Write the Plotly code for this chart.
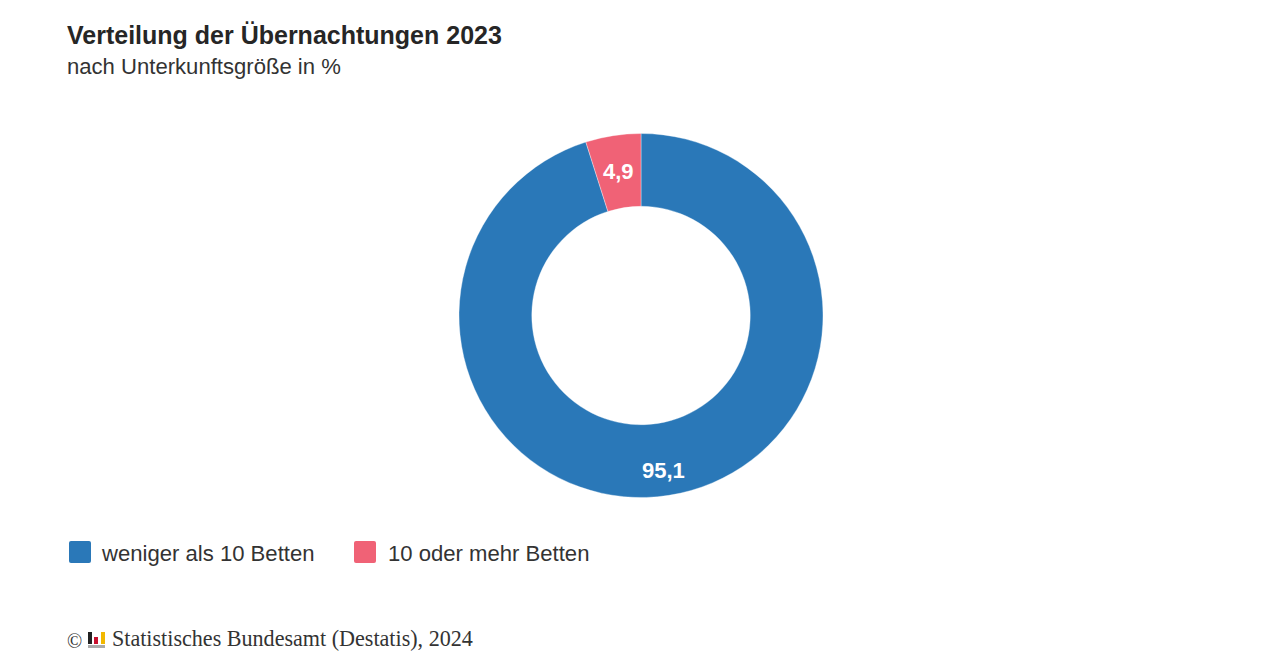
import math
import plotly.graph_objects as go

categories = ["weniger als 10 Betten", "10 oder mehr Betten"]
values = [95.1, 4.9]
value_labels = ["95,1", "4,9"]
colors = ["#2a78b8", "#f06276"]
title = "Verteilung der Übernachtungen 2023"
subtitle = "nach Unterkunftsgröße in %"
source = "Statistisches Bundesamt (Destatis), 2024"

W, H = 1280, 671
SANS = "Liberation Sans, Arial, sans-serif"
SERIF = "Liberation Serif, Times New Roman, serif"
CX, CY, R_OUT, HOLE = 641, 315.5, 182, 0.6

def fx(p): return p / W
def fy(p): return 1 - p / H

fig = go.Figure(go.Pie(
    labels=categories, values=values, textinfo="none",
    marker=dict(colors=colors, line=dict(color="rgba(255,255,255,0.35)", width=1)),
    hole=HOLE, sort=False, direction="clockwise", rotation=0,
    domain=dict(x=[fx(CX - R_OUT), fx(CX + R_OUT)], y=[fy(CY + R_OUT), fy(CY - R_OUT)]),
    showlegend=False, hoverinfo="label+value",
))

def txt(x, y, s, size, color="#333333", family=SANS, bold=False):
    return dict(x=fx(x - 2), y=fy(y), xref="paper", yref="paper", text=f"<b>{s}</b>" if bold else s,
                showarrow=False, xanchor="left", yanchor="middle",
                font=dict(family=family, size=size, color=color))

def rounded(x0, y0, x1, y1, r, color):
    a, b, c, d = fx(x0), fx(x1), fy(y0), fy(y1)
    rx, ry = r / W, r / H
    path = (f"M {a+rx} {c} L {b-rx} {c} Q {b} {c} {b} {c-ry} L {b} {d+ry} Q {b} {d} {b-rx} {d} "
            f"L {a+rx} {d} Q {a} {d} {a} {d+ry} L {a} {c-ry} Q {a} {c} {a+rx} {c} Z")
    return dict(type="path", xref="paper", yref="paper", path=path, fillcolor=color, line=dict(width=0))

def rect(x0, y0, x1, y1, color):
    return dict(type="rect", xref="paper", yref="paper", x0=fx(x0), x1=fx(x1), y0=fy(y0), y1=fy(y1),
                fillcolor=color, line=dict(width=0))

shapes = [
    rounded(69, 541, 91, 563, 2, colors[0]),
    rounded(354, 541, 376, 563, 2, colors[1]),
    rect(88, 632, 92, 644, "#222222"),
    rect(94, 637, 98, 644, "#c8102e"),
    rect(101, 632, 105, 644, "#f2b800"),
    rect(88, 645, 105, 648, "#aaaaaa"),
]
annotations = [
    txt(67, 35, title, 25, "#262626", bold=True),
    txt(67, 67, subtitle, 22.1, "#333333"),
    txt(101, 553, categories[0], 22.1),
    txt(388, 553, categories[1], 22.1),
    txt(67, 641, "©", 20, "#333333", SERIF),
    txt(112, 638, source, 22.1, "#333333", SERIF),
]

# Slice labels: placed at each slice's mid-angle, derived from the values.
total = sum(values)
ring_mid = R_OUT * (1 + HOLE) / 2
label_shift = [11, 0]
cum = 0
for v, lab, dy in zip(values, value_labels, label_shift):
    mid = 2 * math.pi * (cum + v / 2) / total
    cum += v
    annotations.append(dict(
        x=fx(CX + ring_mid * math.sin(mid)), y=fy(CY - ring_mid * math.cos(mid) + dy),
        xref="paper", yref="paper", text=f"<b>{lab}</b>", showarrow=False,
        xanchor="center", yanchor="middle",
        font=dict(family=SANS, size=22, color="white")))

fig.update_layout(width=W, height=H, margin=dict(l=0, r=0, t=0, b=0),
                  paper_bgcolor="white", plot_bgcolor="white",
                  shapes=shapes, annotations=annotations)
fig.write_html("out.html", config=dict(displayModeBar=False),
               post_script="document.body.style.margin='0';document.body.style.overflow='hidden';")
